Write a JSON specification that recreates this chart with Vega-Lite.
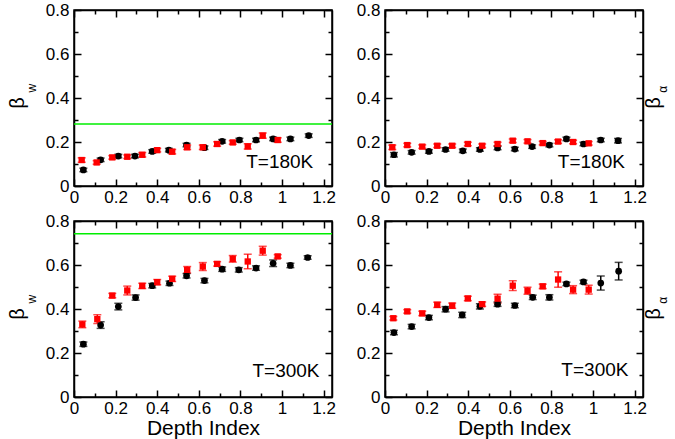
{
"$schema": "https://vega.github.io/schema/vega-lite/v6.json",
"background": "white",
"padding": {"left": 7, "top": 0, "right": 0, "bottom": 0},
"data": {"values": [
{"panel":"tl","kind":"black","x":0.045,"y":0.073,"err":0.008},
{"panel":"tl","kind":"black","x":0.128,"y":0.119,"err":0.008},
{"panel":"tl","kind":"black","x":0.213,"y":0.136,"err":0.008},
{"panel":"tl","kind":"black","x":0.293,"y":0.136,"err":0.008},
{"panel":"tl","kind":"black","x":0.376,"y":0.157,"err":0.008},
{"panel":"tl","kind":"black","x":0.456,"y":0.163,"err":0.008},
{"panel":"tl","kind":"black","x":0.541,"y":0.186,"err":0.008},
{"panel":"tl","kind":"black","x":0.627,"y":0.174,"err":0.008},
{"panel":"tl","kind":"black","x":0.712,"y":0.203,"err":0.008},
{"panel":"tl","kind":"black","x":0.795,"y":0.209,"err":0.008},
{"panel":"tl","kind":"black","x":0.875,"y":0.209,"err":0.008},
{"panel":"tl","kind":"black","x":0.957,"y":0.214,"err":0.008},
{"panel":"tl","kind":"black","x":1.04,"y":0.214,"err":0.008},
{"panel":"tl","kind":"black","x":1.128,"y":0.229,"err":0.008},
{"panel":"tl","kind":"red","x":0.037,"y":0.118,"err":0.01},
{"panel":"tl","kind":"red","x":0.109,"y":0.107,"err":0.008},
{"panel":"tl","kind":"red","x":0.184,"y":0.13,"err":0.008},
{"panel":"tl","kind":"red","x":0.256,"y":0.133,"err":0.008},
{"panel":"tl","kind":"red","x":0.328,"y":0.142,"err":0.01},
{"panel":"tl","kind":"red","x":0.4,"y":0.163,"err":0.008},
{"panel":"tl","kind":"red","x":0.472,"y":0.156,"err":0.01},
{"panel":"tl","kind":"red","x":0.544,"y":0.176,"err":0.01},
{"panel":"tl","kind":"red","x":0.619,"y":0.176,"err":0.01},
{"panel":"tl","kind":"red","x":0.688,"y":0.191,"err":0.01},
{"panel":"tl","kind":"red","x":0.763,"y":0.198,"err":0.008},
{"panel":"tl","kind":"red","x":0.835,"y":0.18,"err":0.012},
{"panel":"tl","kind":"red","x":0.907,"y":0.229,"err":0.012},
{"panel":"tl","kind":"red","x":0.979,"y":0.209,"err":0.01},
{"panel":"tl","kind":"ref","y":0.282},
{"panel":"tl","kind":"label","x":1.15,"y":0.083,"text":"T=180K"},
{"panel":"tl","kind":"beta","x":-0.267,"y":0.377,"text":"β"},
{"panel":"tl","kind":"sub","x":-0.2,"y":0.445,"text":"w"},
{"panel":"tr","kind":"black","x":0.043,"y":0.142,"err":0.01},
{"panel":"tr","kind":"black","x":0.128,"y":0.153,"err":0.008},
{"panel":"tr","kind":"black","x":0.211,"y":0.157,"err":0.008},
{"panel":"tr","kind":"black","x":0.291,"y":0.166,"err":0.008},
{"panel":"tr","kind":"black","x":0.374,"y":0.16,"err":0.008},
{"panel":"tr","kind":"black","x":0.456,"y":0.166,"err":0.008},
{"panel":"tr","kind":"black","x":0.541,"y":0.173,"err":0.008},
{"panel":"tr","kind":"black","x":0.624,"y":0.168,"err":0.008},
{"panel":"tr","kind":"black","x":0.707,"y":0.179,"err":0.008},
{"panel":"tr","kind":"black","x":0.79,"y":0.186,"err":0.008},
{"panel":"tr","kind":"black","x":0.872,"y":0.214,"err":0.008},
{"panel":"tr","kind":"black","x":0.954,"y":0.191,"err":0.008},
{"panel":"tr","kind":"black","x":1.037,"y":0.209,"err":0.008},
{"panel":"tr","kind":"black","x":1.12,"y":0.206,"err":0.01},
{"panel":"tr","kind":"red","x":0.035,"y":0.176,"err":0.01},
{"panel":"tr","kind":"red","x":0.107,"y":0.186,"err":0.008},
{"panel":"tr","kind":"red","x":0.179,"y":0.179,"err":0.008},
{"panel":"tr","kind":"red","x":0.251,"y":0.183,"err":0.008},
{"panel":"tr","kind":"red","x":0.323,"y":0.183,"err":0.008},
{"panel":"tr","kind":"red","x":0.398,"y":0.191,"err":0.008},
{"panel":"tr","kind":"red","x":0.467,"y":0.183,"err":0.008},
{"panel":"tr","kind":"red","x":0.541,"y":0.191,"err":0.008},
{"panel":"tr","kind":"red","x":0.614,"y":0.206,"err":0.008},
{"panel":"tr","kind":"red","x":0.685,"y":0.203,"err":0.008},
{"panel":"tr","kind":"red","x":0.758,"y":0.195,"err":0.008},
{"panel":"tr","kind":"red","x":0.832,"y":0.202,"err":0.008},
{"panel":"tr","kind":"red","x":0.904,"y":0.2,"err":0.008},
{"panel":"tr","kind":"red","x":0.979,"y":0.194,"err":0.008},
{"panel":"tr","kind":"label","x":1.153,"y":0.083,"text":"T=180K"},
{"panel":"tr","kind":"beta","x":1.291,"y":0.377,"text":"β"},
{"panel":"tr","kind":"sub","x":1.335,"y":0.44,"text":"α"},
{"panel":"bl","kind":"black","x":0.045,"y":0.24,"err":0.01},
{"panel":"bl","kind":"black","x":0.128,"y":0.327,"err":0.015},
{"panel":"bl","kind":"black","x":0.213,"y":0.411,"err":0.015},
{"panel":"bl","kind":"black","x":0.296,"y":0.452,"err":0.012},
{"panel":"bl","kind":"black","x":0.376,"y":0.506,"err":0.01},
{"panel":"bl","kind":"black","x":0.459,"y":0.517,"err":0.01},
{"panel":"bl","kind":"black","x":0.541,"y":0.551,"err":0.01},
{"panel":"bl","kind":"black","x":0.627,"y":0.529,"err":0.01},
{"panel":"bl","kind":"black","x":0.712,"y":0.581,"err":0.01},
{"panel":"bl","kind":"black","x":0.792,"y":0.578,"err":0.01},
{"panel":"bl","kind":"black","x":0.875,"y":0.586,"err":0.01},
{"panel":"bl","kind":"black","x":0.957,"y":0.608,"err":0.015},
{"panel":"bl","kind":"black","x":1.04,"y":0.598,"err":0.01},
{"panel":"bl","kind":"black","x":1.123,"y":0.634,"err":0.008},
{"panel":"bl","kind":"red","x":0.04,"y":0.33,"err":0.015},
{"panel":"bl","kind":"red","x":0.112,"y":0.354,"err":0.02},
{"panel":"bl","kind":"red","x":0.184,"y":0.461,"err":0.01},
{"panel":"bl","kind":"red","x":0.256,"y":0.484,"err":0.02},
{"panel":"bl","kind":"red","x":0.328,"y":0.505,"err":0.012},
{"panel":"bl","kind":"red","x":0.4,"y":0.522,"err":0.012},
{"panel":"bl","kind":"red","x":0.472,"y":0.537,"err":0.012},
{"panel":"bl","kind":"red","x":0.544,"y":0.578,"err":0.015},
{"panel":"bl","kind":"red","x":0.619,"y":0.593,"err":0.018},
{"panel":"bl","kind":"red","x":0.688,"y":0.605,"err":0.01},
{"panel":"bl","kind":"red","x":0.763,"y":0.628,"err":0.015},
{"panel":"bl","kind":"red","x":0.835,"y":0.616,"err":0.033},
{"panel":"bl","kind":"red","x":0.907,"y":0.665,"err":0.02},
{"panel":"bl","kind":"red","x":0.979,"y":0.639,"err":0.008},
{"panel":"bl","kind":"ref","y":0.742},
{"panel":"bl","kind":"label","x":1.18,"y":0.09,"text":"T=300K"},
{"panel":"bl","kind":"beta","x":-0.267,"y":0.377,"text":"β"},
{"panel":"bl","kind":"sub","x":-0.2,"y":0.445,"text":"w"},
{"panel":"br","kind":"black","x":0.043,"y":0.293,"err":0.01},
{"panel":"br","kind":"black","x":0.128,"y":0.32,"err":0.01},
{"panel":"br","kind":"black","x":0.211,"y":0.361,"err":0.01},
{"panel":"br","kind":"black","x":0.291,"y":0.399,"err":0.012},
{"panel":"br","kind":"black","x":0.371,"y":0.373,"err":0.012},
{"panel":"br","kind":"black","x":0.456,"y":0.412,"err":0.012},
{"panel":"br","kind":"black","x":0.541,"y":0.422,"err":0.01},
{"panel":"br","kind":"black","x":0.624,"y":0.416,"err":0.01},
{"panel":"br","kind":"black","x":0.71,"y":0.453,"err":0.01},
{"panel":"br","kind":"black","x":0.79,"y":0.453,"err":0.012},
{"panel":"br","kind":"black","x":0.872,"y":0.514,"err":0.008},
{"panel":"br","kind":"black","x":0.954,"y":0.523,"err":0.008},
{"panel":"br","kind":"black","x":1.037,"y":0.518,"err":0.032},
{"panel":"br","kind":"black","x":1.123,"y":0.572,"err":0.04},
{"panel":"br","kind":"red","x":0.04,"y":0.358,"err":0.008},
{"panel":"br","kind":"red","x":0.107,"y":0.389,"err":0.008},
{"panel":"br","kind":"red","x":0.179,"y":0.38,"err":0.01},
{"panel":"br","kind":"red","x":0.251,"y":0.419,"err":0.012},
{"panel":"br","kind":"red","x":0.323,"y":0.415,"err":0.012},
{"panel":"br","kind":"red","x":0.398,"y":0.448,"err":0.01},
{"panel":"br","kind":"red","x":0.467,"y":0.422,"err":0.01},
{"panel":"br","kind":"red","x":0.541,"y":0.447,"err":0.02},
{"panel":"br","kind":"red","x":0.614,"y":0.506,"err":0.022},
{"panel":"br","kind":"red","x":0.685,"y":0.483,"err":0.016},
{"panel":"br","kind":"red","x":0.758,"y":0.503,"err":0.01},
{"panel":"br","kind":"red","x":0.832,"y":0.534,"err":0.035},
{"panel":"br","kind":"red","x":0.904,"y":0.488,"err":0.018},
{"panel":"br","kind":"red","x":0.979,"y":0.488,"err":0.02},
{"panel":"br","kind":"label","x":1.17,"y":0.096,"text":"T=300K"},
{"panel":"br","kind":"beta","x":1.291,"y":0.377,"text":"β"},
{"panel":"br","kind":"sub","x":1.335,"y":0.44,"text":"α"}
]},
"columns": 2,
"spacing": {"row": 35, "column": 53},
"bounds": "flush",
"concat": [
{"width": 258, "height": 176,
 "transform": [{"filter": "datum.panel == 'tl'"}],
 "layer": [
  {"transform": [{"filter": "datum.kind == 'ref'"}], "mark": {"type": "rule", "color": "#00ee00", "strokeWidth": 1.5},
   "encoding": {"y": {"field": "y", "type": "quantitative", "scale": {"domain": [0, 0.8], "nice": false, "zero": false}, "axis": null}}},
  {"transform": [{"filter": "datum.kind == 'black' || datum.kind == 'red'"}], "mark": {"type": "errorbar", "ticks": {"size": 8}, "thickness": 1.5},
   "encoding": {"x": {"field": "x", "type": "quantitative", "scale": {"domain": [0, 1.24], "nice": false, "zero": false}, "axis": null},
    "y": {"field": "y", "type": "quantitative", "scale": {"domain": [0, 0.8], "nice": false, "zero": false}, "axis": null},
    "yError": {"field": "err"},
    "color": {"field": "kind", "type": "nominal", "scale": {"domain": ["black", "red"], "range": ["#000000", "#ff0000"]}, "legend": null}}},
  {"transform": [{"filter": "datum.kind == 'black'"}], "mark": {"type": "circle", "size": 45, "color": "#000000", "opacity": 1},
   "encoding": {"x": {"field": "x", "type": "quantitative", "scale": {"domain": [0, 1.24], "nice": false, "zero": false},
     "axis": {"orient": "bottom", "title": null, "values": [0,0.1,0.2,0.3,0.4,0.5,0.6,0.7,0.8,0.9,1,1.1,1.2], "labelExpr": "round(datum.value*10)%2==0 ? format(datum.value, '~g') : ''", "tickSize": {"condition": {"test": "round(datum.value*10)%2==0", "value": -7}, "value": -4}, "labelPadding": 10}},
    "y": {"field": "y", "type": "quantitative", "scale": {"domain": [0, 0.8], "nice": false, "zero": false},
     "axis": {"orient": "left", "title": null, "values": [0,0.1,0.2,0.3,0.4,0.5,0.6,0.7,0.8], "labelExpr": "round(datum.value*10)%2==0 ? format(datum.value, '~g') : ''", "tickSize": {"condition": {"test": "round(datum.value*10)%2==0", "value": -7}, "value": -4}, "labelPadding": 12}}}},
  {"transform": [{"filter": "datum.kind == 'red'"}], "mark": {"type": "square", "size": 40, "color": "#ff0000", "opacity": 1},
   "encoding": {"x": {"field": "x", "type": "quantitative", "scale": {"domain": [0, 1.24], "nice": false, "zero": false},
     "axis": {"orient": "top", "title": null, "labels": false, "values": [0,0.1,0.2,0.3,0.4,0.5,0.6,0.7,0.8,0.9,1,1.1,1.2], "tickSize": {"condition": {"test": "round(datum.value*10)%2==0", "value": -7}, "value": -4}}},
    "y": {"field": "y", "type": "quantitative", "scale": {"domain": [0, 0.8], "nice": false, "zero": false},
     "axis": {"orient": "right", "title": null, "labels": false, "values": [0,0.1,0.2,0.3,0.4,0.5,0.6,0.7,0.8], "tickSize": {"condition": {"test": "round(datum.value*10)%2==0", "value": -7}, "value": -4}}}}},
  {"transform": [{"filter": "datum.kind == 'label'"}], "mark": {"type": "text", "align": "right", "baseline": "alphabetic", "fontSize": 19, "color": "#000000"},
   "encoding": {"x": {"field": "x", "type": "quantitative", "scale": {"domain": [0, 1.24], "nice": false, "zero": false}, "axis": null},
    "y": {"field": "y", "type": "quantitative", "scale": {"domain": [0, 0.8], "nice": false, "zero": false}, "axis": null}, "text": {"field": "text"}}},
  {"transform": [{"filter": "datum.kind == 'beta'"}], "mark": {"type": "text", "align": "center", "baseline": "middle", "angle": 270, "fontSize": 20, "color": "#000000"},
   "encoding": {"x": {"field": "x", "type": "quantitative", "scale": {"domain": [0, 1.24], "nice": false, "zero": false}, "axis": null},
    "y": {"field": "y", "type": "quantitative", "scale": {"domain": [0, 0.8], "nice": false, "zero": false}, "axis": null}, "text": {"field": "text"}}},
  {"transform": [{"filter": "datum.kind == 'sub'"}], "mark": {"type": "text", "align": "center", "baseline": "middle", "angle": 270, "fontSize": 12, "color": "#000000"},
   "encoding": {"x": {"field": "x", "type": "quantitative", "scale": {"domain": [0, 1.24], "nice": false, "zero": false}, "axis": null},
    "y": {"field": "y", "type": "quantitative", "scale": {"domain": [0, 0.8], "nice": false, "zero": false}, "axis": null}, "text": {"field": "text"}}}
 ],
 "resolve": {"scale": {"x": "shared", "y": "shared"}, "axis": {"x": "independent", "y": "independent"}}
},
{"width": 258, "height": 176,
 "transform": [{"filter": "datum.panel == 'tr'"}],
 "layer": [
  {"transform": [{"filter": "datum.kind == 'black' || datum.kind == 'red'"}], "mark": {"type": "errorbar", "ticks": {"size": 8}, "thickness": 1.5},
   "encoding": {"x": {"field": "x", "type": "quantitative", "scale": {"domain": [0, 1.24], "nice": false, "zero": false}, "axis": null},
    "y": {"field": "y", "type": "quantitative", "scale": {"domain": [0, 0.8], "nice": false, "zero": false}, "axis": null},
    "yError": {"field": "err"},
    "color": {"field": "kind", "type": "nominal", "scale": {"domain": ["black", "red"], "range": ["#000000", "#ff0000"]}, "legend": null}}},
  {"transform": [{"filter": "datum.kind == 'black'"}], "mark": {"type": "circle", "size": 45, "color": "#000000", "opacity": 1},
   "encoding": {"x": {"field": "x", "type": "quantitative", "scale": {"domain": [0, 1.24], "nice": false, "zero": false},
     "axis": {"orient": "bottom", "title": null, "values": [0,0.1,0.2,0.3,0.4,0.5,0.6,0.7,0.8,0.9,1,1.1,1.2], "labelExpr": "round(datum.value*10)%2==0 ? format(datum.value, '~g') : ''", "tickSize": {"condition": {"test": "round(datum.value*10)%2==0", "value": -7}, "value": -4}, "labelPadding": 10}},
    "y": {"field": "y", "type": "quantitative", "scale": {"domain": [0, 0.8], "nice": false, "zero": false},
     "axis": {"orient": "left", "title": null, "values": [0,0.1,0.2,0.3,0.4,0.5,0.6,0.7,0.8], "labelExpr": "round(datum.value*10)%2==0 ? format(datum.value, '~g') : ''", "tickSize": {"condition": {"test": "round(datum.value*10)%2==0", "value": -7}, "value": -4}, "labelPadding": 12}}}},
  {"transform": [{"filter": "datum.kind == 'red'"}], "mark": {"type": "square", "size": 40, "color": "#ff0000", "opacity": 1},
   "encoding": {"x": {"field": "x", "type": "quantitative", "scale": {"domain": [0, 1.24], "nice": false, "zero": false},
     "axis": {"orient": "top", "title": null, "labels": false, "values": [0,0.1,0.2,0.3,0.4,0.5,0.6,0.7,0.8,0.9,1,1.1,1.2], "tickSize": {"condition": {"test": "round(datum.value*10)%2==0", "value": -7}, "value": -4}}},
    "y": {"field": "y", "type": "quantitative", "scale": {"domain": [0, 0.8], "nice": false, "zero": false},
     "axis": {"orient": "right", "title": null, "labels": false, "values": [0,0.1,0.2,0.3,0.4,0.5,0.6,0.7,0.8], "tickSize": {"condition": {"test": "round(datum.value*10)%2==0", "value": -7}, "value": -4}}}}},
  {"transform": [{"filter": "datum.kind == 'label'"}], "mark": {"type": "text", "align": "right", "baseline": "alphabetic", "fontSize": 19, "color": "#000000"},
   "encoding": {"x": {"field": "x", "type": "quantitative", "scale": {"domain": [0, 1.24], "nice": false, "zero": false}, "axis": null},
    "y": {"field": "y", "type": "quantitative", "scale": {"domain": [0, 0.8], "nice": false, "zero": false}, "axis": null}, "text": {"field": "text"}}},
  {"transform": [{"filter": "datum.kind == 'beta'"}], "mark": {"type": "text", "align": "center", "baseline": "middle", "angle": 270, "fontSize": 20, "color": "#000000"},
   "encoding": {"x": {"field": "x", "type": "quantitative", "scale": {"domain": [0, 1.24], "nice": false, "zero": false}, "axis": null},
    "y": {"field": "y", "type": "quantitative", "scale": {"domain": [0, 0.8], "nice": false, "zero": false}, "axis": null}, "text": {"field": "text"}}},
  {"transform": [{"filter": "datum.kind == 'sub'"}], "mark": {"type": "text", "align": "center", "baseline": "middle", "angle": 270, "fontSize": 12, "color": "#000000"},
   "encoding": {"x": {"field": "x", "type": "quantitative", "scale": {"domain": [0, 1.24], "nice": false, "zero": false}, "axis": null},
    "y": {"field": "y", "type": "quantitative", "scale": {"domain": [0, 0.8], "nice": false, "zero": false}, "axis": null}, "text": {"field": "text"}}}
 ],
 "resolve": {"scale": {"x": "shared", "y": "shared"}, "axis": {"x": "independent", "y": "independent"}}
},
{"width": 258, "height": 176,
 "transform": [{"filter": "datum.panel == 'bl'"}],
 "layer": [
  {"transform": [{"filter": "datum.kind == 'ref'"}], "mark": {"type": "rule", "color": "#00ee00", "strokeWidth": 1.5},
   "encoding": {"y": {"field": "y", "type": "quantitative", "scale": {"domain": [0, 0.8], "nice": false, "zero": false}, "axis": null}}},
  {"transform": [{"filter": "datum.kind == 'black' || datum.kind == 'red'"}], "mark": {"type": "errorbar", "ticks": {"size": 8}, "thickness": 1.5},
   "encoding": {"x": {"field": "x", "type": "quantitative", "scale": {"domain": [0, 1.24], "nice": false, "zero": false}, "axis": null},
    "y": {"field": "y", "type": "quantitative", "scale": {"domain": [0, 0.8], "nice": false, "zero": false}, "axis": null},
    "yError": {"field": "err"},
    "color": {"field": "kind", "type": "nominal", "scale": {"domain": ["black", "red"], "range": ["#000000", "#ff0000"]}, "legend": null}}},
  {"transform": [{"filter": "datum.kind == 'black'"}], "mark": {"type": "circle", "size": 45, "color": "#000000", "opacity": 1},
   "encoding": {"x": {"field": "x", "type": "quantitative", "scale": {"domain": [0, 1.24], "nice": false, "zero": false},
     "axis": {"orient": "bottom", "title": "Depth Index", "titlePadding": -2, "values": [0,0.1,0.2,0.3,0.4,0.5,0.6,0.7,0.8,0.9,1,1.1,1.2], "labelExpr": "round(datum.value*10)%2==0 ? format(datum.value, '~g') : ''", "tickSize": {"condition": {"test": "round(datum.value*10)%2==0", "value": -7}, "value": -4}, "labelPadding": 10}},
    "y": {"field": "y", "type": "quantitative", "scale": {"domain": [0, 0.8], "nice": false, "zero": false},
     "axis": {"orient": "left", "title": null, "values": [0,0.1,0.2,0.3,0.4,0.5,0.6,0.7,0.8], "labelExpr": "round(datum.value*10)%2==0 ? format(datum.value, '~g') : ''", "tickSize": {"condition": {"test": "round(datum.value*10)%2==0", "value": -7}, "value": -4}, "labelPadding": 12}}}},
  {"transform": [{"filter": "datum.kind == 'red'"}], "mark": {"type": "square", "size": 40, "color": "#ff0000", "opacity": 1},
   "encoding": {"x": {"field": "x", "type": "quantitative", "scale": {"domain": [0, 1.24], "nice": false, "zero": false},
     "axis": {"orient": "top", "title": null, "labels": false, "values": [0,0.1,0.2,0.3,0.4,0.5,0.6,0.7,0.8,0.9,1,1.1,1.2], "tickSize": {"condition": {"test": "round(datum.value*10)%2==0", "value": -7}, "value": -4}}},
    "y": {"field": "y", "type": "quantitative", "scale": {"domain": [0, 0.8], "nice": false, "zero": false},
     "axis": {"orient": "right", "title": null, "labels": false, "values": [0,0.1,0.2,0.3,0.4,0.5,0.6,0.7,0.8], "tickSize": {"condition": {"test": "round(datum.value*10)%2==0", "value": -7}, "value": -4}}}}},
  {"transform": [{"filter": "datum.kind == 'label'"}], "mark": {"type": "text", "align": "right", "baseline": "alphabetic", "fontSize": 19, "color": "#000000"},
   "encoding": {"x": {"field": "x", "type": "quantitative", "scale": {"domain": [0, 1.24], "nice": false, "zero": false}, "axis": null},
    "y": {"field": "y", "type": "quantitative", "scale": {"domain": [0, 0.8], "nice": false, "zero": false}, "axis": null}, "text": {"field": "text"}}},
  {"transform": [{"filter": "datum.kind == 'beta'"}], "mark": {"type": "text", "align": "center", "baseline": "middle", "angle": 270, "fontSize": 20, "color": "#000000"},
   "encoding": {"x": {"field": "x", "type": "quantitative", "scale": {"domain": [0, 1.24], "nice": false, "zero": false}, "axis": null},
    "y": {"field": "y", "type": "quantitative", "scale": {"domain": [0, 0.8], "nice": false, "zero": false}, "axis": null}, "text": {"field": "text"}}},
  {"transform": [{"filter": "datum.kind == 'sub'"}], "mark": {"type": "text", "align": "center", "baseline": "middle", "angle": 270, "fontSize": 12, "color": "#000000"},
   "encoding": {"x": {"field": "x", "type": "quantitative", "scale": {"domain": [0, 1.24], "nice": false, "zero": false}, "axis": null},
    "y": {"field": "y", "type": "quantitative", "scale": {"domain": [0, 0.8], "nice": false, "zero": false}, "axis": null}, "text": {"field": "text"}}}
 ],
 "resolve": {"scale": {"x": "shared", "y": "shared"}, "axis": {"x": "independent", "y": "independent"}}
},
{"width": 258, "height": 176,
 "transform": [{"filter": "datum.panel == 'br'"}],
 "layer": [
  {"transform": [{"filter": "datum.kind == 'black' || datum.kind == 'red'"}], "mark": {"type": "errorbar", "ticks": {"size": 8}, "thickness": 1.5},
   "encoding": {"x": {"field": "x", "type": "quantitative", "scale": {"domain": [0, 1.24], "nice": false, "zero": false}, "axis": null},
    "y": {"field": "y", "type": "quantitative", "scale": {"domain": [0, 0.8], "nice": false, "zero": false}, "axis": null},
    "yError": {"field": "err"},
    "color": {"field": "kind", "type": "nominal", "scale": {"domain": ["black", "red"], "range": ["#000000", "#ff0000"]}, "legend": null}}},
  {"transform": [{"filter": "datum.kind == 'black'"}], "mark": {"type": "circle", "size": 45, "color": "#000000", "opacity": 1},
   "encoding": {"x": {"field": "x", "type": "quantitative", "scale": {"domain": [0, 1.24], "nice": false, "zero": false},
     "axis": {"orient": "bottom", "title": "Depth Index", "titlePadding": -2, "values": [0,0.1,0.2,0.3,0.4,0.5,0.6,0.7,0.8,0.9,1,1.1,1.2], "labelExpr": "round(datum.value*10)%2==0 ? format(datum.value, '~g') : ''", "tickSize": {"condition": {"test": "round(datum.value*10)%2==0", "value": -7}, "value": -4}, "labelPadding": 10}},
    "y": {"field": "y", "type": "quantitative", "scale": {"domain": [0, 0.8], "nice": false, "zero": false},
     "axis": {"orient": "left", "title": null, "values": [0,0.1,0.2,0.3,0.4,0.5,0.6,0.7,0.8], "labelExpr": "round(datum.value*10)%2==0 ? format(datum.value, '~g') : ''", "tickSize": {"condition": {"test": "round(datum.value*10)%2==0", "value": -7}, "value": -4}, "labelPadding": 12}}}},
  {"transform": [{"filter": "datum.kind == 'red'"}], "mark": {"type": "square", "size": 40, "color": "#ff0000", "opacity": 1},
   "encoding": {"x": {"field": "x", "type": "quantitative", "scale": {"domain": [0, 1.24], "nice": false, "zero": false},
     "axis": {"orient": "top", "title": null, "labels": false, "values": [0,0.1,0.2,0.3,0.4,0.5,0.6,0.7,0.8,0.9,1,1.1,1.2], "tickSize": {"condition": {"test": "round(datum.value*10)%2==0", "value": -7}, "value": -4}}},
    "y": {"field": "y", "type": "quantitative", "scale": {"domain": [0, 0.8], "nice": false, "zero": false},
     "axis": {"orient": "right", "title": null, "labels": false, "values": [0,0.1,0.2,0.3,0.4,0.5,0.6,0.7,0.8], "tickSize": {"condition": {"test": "round(datum.value*10)%2==0", "value": -7}, "value": -4}}}}},
  {"transform": [{"filter": "datum.kind == 'label'"}], "mark": {"type": "text", "align": "right", "baseline": "alphabetic", "fontSize": 19, "color": "#000000"},
   "encoding": {"x": {"field": "x", "type": "quantitative", "scale": {"domain": [0, 1.24], "nice": false, "zero": false}, "axis": null},
    "y": {"field": "y", "type": "quantitative", "scale": {"domain": [0, 0.8], "nice": false, "zero": false}, "axis": null}, "text": {"field": "text"}}},
  {"transform": [{"filter": "datum.kind == 'beta'"}], "mark": {"type": "text", "align": "center", "baseline": "middle", "angle": 270, "fontSize": 20, "color": "#000000"},
   "encoding": {"x": {"field": "x", "type": "quantitative", "scale": {"domain": [0, 1.24], "nice": false, "zero": false}, "axis": null},
    "y": {"field": "y", "type": "quantitative", "scale": {"domain": [0, 0.8], "nice": false, "zero": false}, "axis": null}, "text": {"field": "text"}}},
  {"transform": [{"filter": "datum.kind == 'sub'"}], "mark": {"type": "text", "align": "center", "baseline": "middle", "angle": 270, "fontSize": 12, "color": "#000000"},
   "encoding": {"x": {"field": "x", "type": "quantitative", "scale": {"domain": [0, 1.24], "nice": false, "zero": false}, "axis": null},
    "y": {"field": "y", "type": "quantitative", "scale": {"domain": [0, 0.8], "nice": false, "zero": false}, "axis": null}, "text": {"field": "text"}}}
 ],
 "resolve": {"scale": {"x": "shared", "y": "shared"}, "axis": {"x": "independent", "y": "independent"}}
}
],
"config": {
 "font": "Liberation Sans",
 "view": {"stroke": "#000000", "strokeWidth": 1.5},
 "axis": {"domainColor": "#000000", "domainWidth": 1.5, "tickColor": "#000000", "tickWidth": 1.5, "grid": false,
  "labelFont": "Liberation Sans", "labelFontSize": 17, "labelColor": "#000000", "labelFlush": false, "labelOverlap": false,
  "titleFont": "Liberation Sans", "titleFontSize": 21, "titleFontWeight": "normal", "titleColor": "#000000"}
}
}
